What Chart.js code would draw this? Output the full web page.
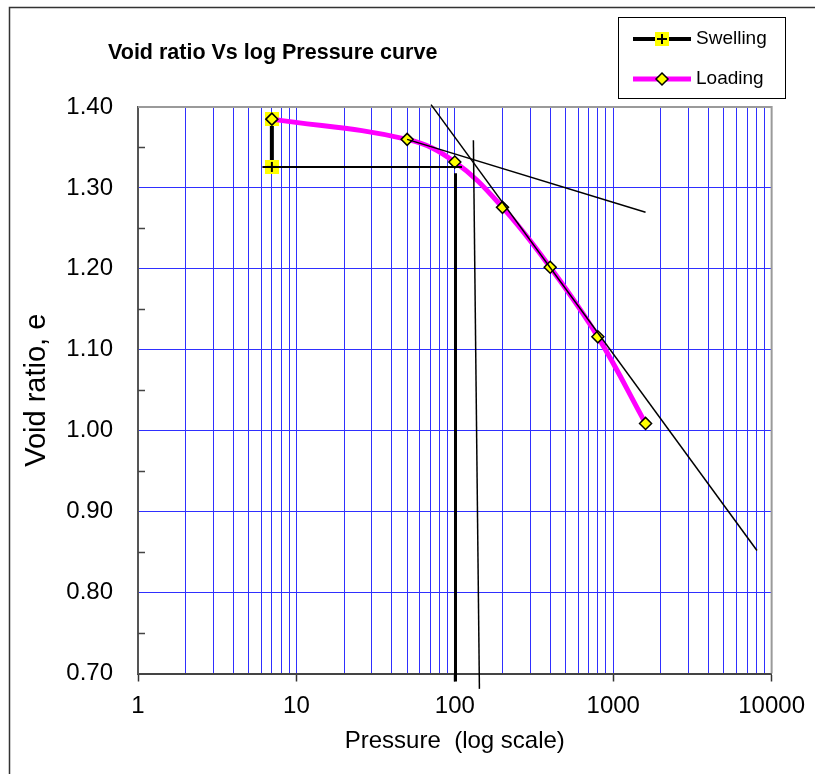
<!DOCTYPE html>
<html lang="en">
<head>
<meta charset="UTF-8">
<title>Void ratio Vs log Pressure curve</title>
<script src="https://cdn.jsdelivr.net/npm/chart.js"></script>
<style>
  body { margin: 0; background: #fff; }
  canvas { display: block; }
</style>
</head>
<body>
<canvas id="myChart" width="815" height="774"></canvas>
<script>
// loading branch (pressure, void ratio)
const loadPressure = [7, 50, 100, 200, 400, 800, 1600];
const loadVoid = [1.385, 1.360, 1.332, 1.276, 1.202, 1.116, 1.009];
// swelling branch
const swellPressure = [7, 7];
const swellVoid = [1.385, 1.326];
// construction lines
const horizP = [6.1, 111];
const horizE = [1.326, 1.326];
const pcP = [101, 101];
const pcE = [1.318, 0.69];
const bisectP = [131, 143];
const bisectE = [1.359, 0.681];
const upperP = [50, 1600];
const upperE = [1.360, 1.270];
const ccP = [70.8, 8080];
const ccE = [1.403, 0.852];

const xTickLabels = [1, 10, 100, 1000, 10000];
const yTickLabels = [0.70, 0.80, 0.90, 1.00, 1.10, 1.20, 1.30, 1.40];

const FONT = '"Liberation Sans", Arial, sans-serif';
const BLUE = '#2f2fff';

// grid at 1..9 of every decade
let xGrid = [];
for (let d = 0; d < 4; d++) {
  for (let m = 1; m < 10; m++) xGrid.push(m * Math.pow(10, d));
}
xGrid.push(10000);

function toPoints(xs, ys) {
  return xs.map((x, i) => ({x: x, y: ys[i]}));
}

function makeSwellMarker() {
  const c = document.createElement('canvas');
  c.width = 14; c.height = 14;
  const g = c.getContext('2d');
  g.fillStyle = '#ffff00';
  g.fillRect(0, 0, 14, 14);
  g.strokeStyle = '#000';
  g.lineWidth = 2;
  g.beginPath();
  g.moveTo(7, 2); g.lineTo(7, 12);
  g.moveTo(2, 7); g.lineTo(12, 7);
  g.stroke();
  return c;
}
const swellMarker = makeSwellMarker();

function lineSet(xs, ys, w) {
  return {
    label: '', data: toPoints(xs, ys), showLine: true,
    borderColor: '#000', borderWidth: w, pointRadius: 0,
    clip: false, order: 0
  };
}

function drawDiamond(ctx, x, y, r) {
  ctx.beginPath();
  ctx.moveTo(x, y - r); ctx.lineTo(x + r, y); ctx.lineTo(x, y + r); ctx.lineTo(x - r, y);
  ctx.closePath();
  ctx.fillStyle = '#ffff00';
  ctx.fill();
  ctx.strokeStyle = '#000';
  ctx.lineWidth = 1.5;
  ctx.stroke();
}

const decor = {
  id: 'decor',
  beforeDraw(chart) {
    const ctx = chart.ctx;
    ctx.save();
    ctx.fillStyle = '#fff';
    ctx.fillRect(0, 0, chart.width, chart.height);
    ctx.strokeStyle = '#333';
    ctx.lineWidth = 1.5;
    ctx.strokeRect(9.5, 7.5, 900, 900);
    ctx.restore();
  },
  beforeDatasetsDraw(chart) {
    const ctx = chart.ctx;
    const a = chart.chartArea;
    const y = chart.scales.y;
    ctx.save();
    // top and right frame of plot area
    ctx.strokeStyle = '#9a9a9a';
    ctx.lineWidth = 2;
    ctx.beginPath();
    ctx.moveTo(a.left, a.top); ctx.lineTo(a.right, a.top); ctx.lineTo(a.right, a.bottom);
    ctx.stroke();
    // minor ticks on y axis, inside
    ctx.strokeStyle = '#444';
    ctx.lineWidth = 1.5;
    ctx.beginPath();
    for (let v = 0.75; v < 1.4; v += 0.1) {
      const py = Math.round(y.getPixelForValue(v)) + 0.5;
      ctx.moveTo(a.left, py); ctx.lineTo(a.left + 7, py);
    }
    ctx.stroke();
    ctx.restore();
  },
  afterDraw(chart) {
    const ctx = chart.ctx;
    ctx.save();
    // title
    ctx.fillStyle = '#000';
    ctx.font = 'bold 21.5px ' + FONT;
    ctx.textBaseline = 'middle';
    ctx.fillText('Void ratio Vs log Pressure curve', 108, 53);
    // legend
    ctx.fillStyle = '#fff';
    ctx.fillRect(618.5, 17.5, 167, 81);
    ctx.strokeStyle = '#000';
    ctx.lineWidth = 1;
    ctx.strokeRect(618.5, 17.5, 167, 81);
    const sw = chart.data.datasets[6];
    const ld = chart.data.datasets[5];
    ctx.lineWidth = sw.borderWidth;
    ctx.strokeStyle = sw.borderColor;
    ctx.beginPath(); ctx.moveTo(633, 39); ctx.lineTo(691, 39); ctx.stroke();
    ctx.drawImage(swellMarker, 662 - 7, 39 - 7);
    ctx.lineWidth = ld.borderWidth;
    ctx.strokeStyle = ld.borderColor;
    ctx.beginPath(); ctx.moveTo(633, 79); ctx.lineTo(691, 79); ctx.stroke();
    drawDiamond(ctx, 662, 79, 6);
    ctx.fillStyle = '#000';
    ctx.font = '19px ' + FONT;
    ctx.fillText(sw.label, 696, 39);
    ctx.fillText(ld.label, 696, 79);
    ctx.restore();
  }
};

const ctx = document.getElementById('myChart');
let configs = {
  type: 'scatter',
  data: {
    datasets: [
      lineSet(horizP, horizE, 2),
      lineSet(pcP, pcE, 3),
      lineSet(bisectP, bisectE, 1.5),
      lineSet(upperP, upperE, 1.5),
      lineSet(ccP, ccE, 1.5),
      {
        label: 'Loading',
        data: toPoints(loadPressure, loadVoid),
        showLine: true,
        borderColor: '#ff00ff',
        borderWidth: 5,
        tension: 0.4,
        pointStyle: 'rectRot',
        pointRadius: 6,
        pointBackgroundColor: '#ffff00',
        pointBorderColor: '#000',
        pointBorderWidth: 1.5,
        order: 5
      },
      {
        label: 'Swelling',
        data: toPoints(swellPressure, swellVoid),
        showLine: true,
        borderColor: '#000',
        borderWidth: 4,
        pointStyle: swellMarker,
        pointRadius: 7,
        order: 6
      }
    ]
  },
  options: {
    responsive: false,
    animation: false,
    events: [],
    layout: { padding: { top: 107, right: 42, left: 0, bottom: 0 } },
    plugins: {
      legend: { display: false },
      tooltip: { enabled: false }
    },
    scales: {
      x: {
        type: 'logarithmic',
        min: 1,
        max: 10000,
        afterBuildTicks: (s) => { s.ticks = xGrid.map(v => ({value: v})); },
        afterFit: (s) => { s.height = 100.5; },
        ticks: {
          autoSkip: false,
          maxRotation: 0,
          color: '#000',
          padding: 10,
          font: { family: FONT, size: 24 },
          callback: (v) => xTickLabels.includes(v) ? String(v) : ''
        },
        grid: {
          color: (c) => (c.tick && (c.tick.value === 1 || c.tick.value === 10000)) ? 'rgba(0,0,0,0)' : BLUE,
          lineWidth: 1,
          tickColor: (c) => (c.tick && xTickLabels.includes(c.tick.value)) ? '#333' : 'rgba(0,0,0,0)',
          tickLength: 8,
          tickWidth: 1.5
        },
        border: { color: '#444', width: 2 },
        title: {
          display: true,
          text: 'Pressure  (log scale)',
          color: '#000',
          font: { family: FONT, size: 24 },
          padding: { top: 0, bottom: 18 }
        }
      },
      y: {
        min: 0.7,
        max: 1.4,
        afterBuildTicks: (s) => { s.ticks = yTickLabels.map(v => ({value: v})); },
        afterFit: (s) => { s.width = 138; },
        ticks: {
          color: '#000',
          padding: 25,
          font: { family: FONT, size: 24 },
          callback: (v) => Number(v).toFixed(2)
        },
        grid: {
          drawTicks: false,
          color: (c) => (c.tick && (c.tick.value <= 0.7 || c.tick.value >= 1.4)) ? 'rgba(0,0,0,0)' : BLUE,
          lineWidth: 1
        },
        border: { color: '#555', width: 2 },
        title: {
          display: true,
          text: 'Void ratio, e',
          color: '#000',
          font: { family: FONT, size: 29 },
          padding: { top: 20, bottom: 0 }
        }
      }
    }
  },
  plugins: [decor]
};
let myChart = new Chart(ctx, configs);
</script>
</body>
</html>
